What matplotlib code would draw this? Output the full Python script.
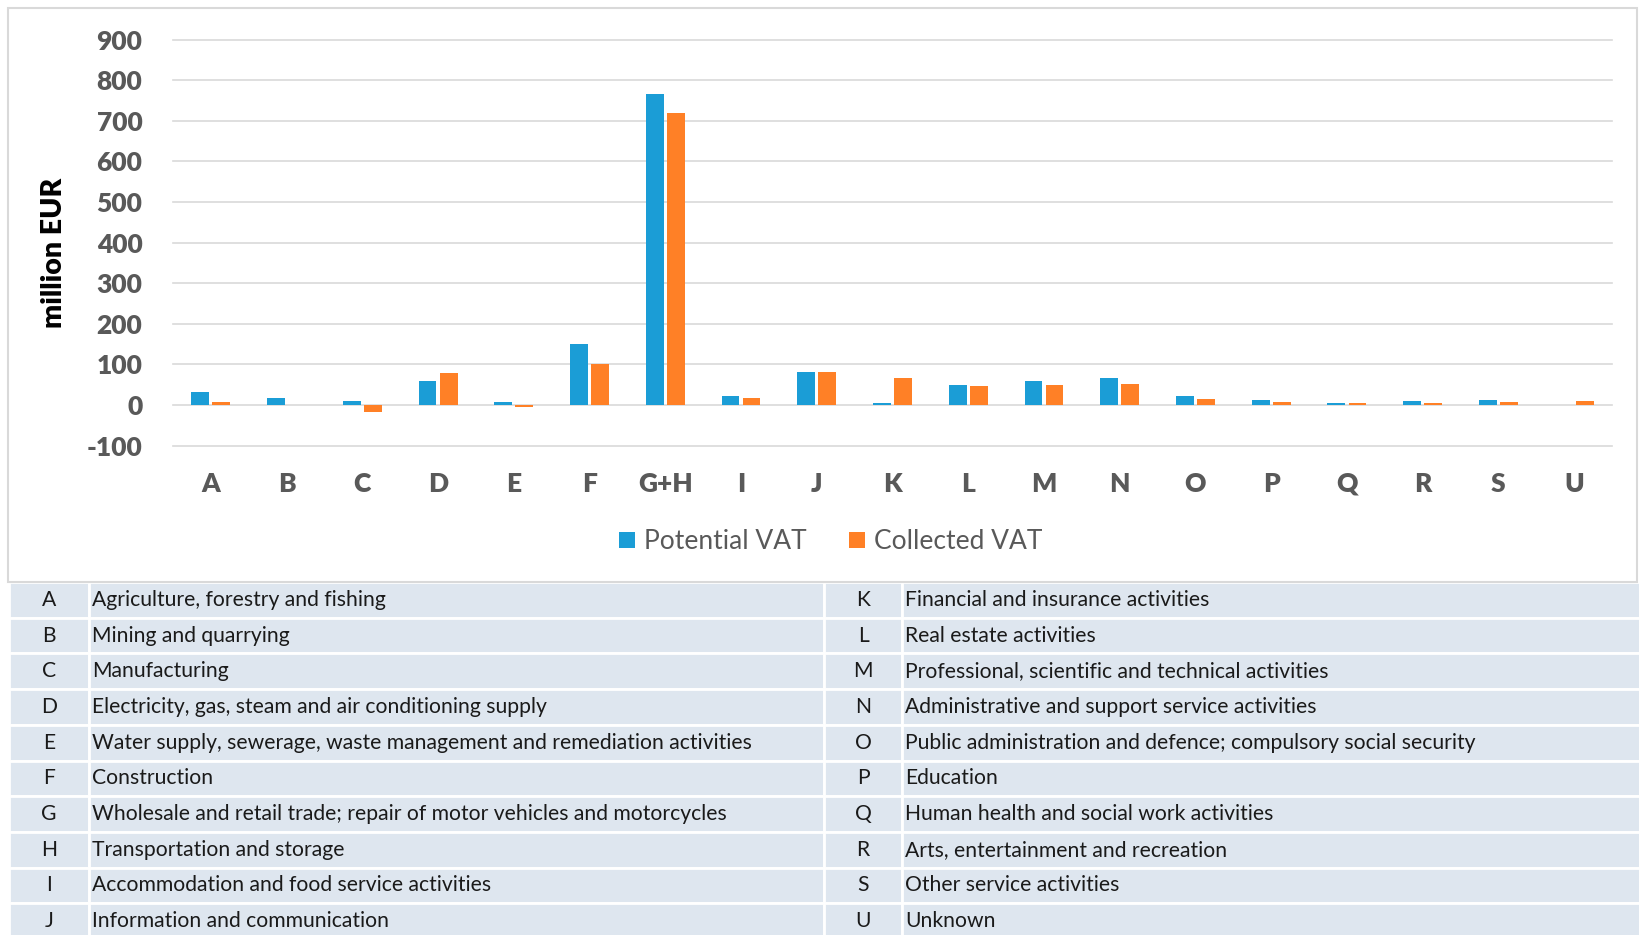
import numpy as np
import matplotlib
matplotlib.use("Agg")
import matplotlib.pyplot as plt
from matplotlib.patches import Rectangle

plt.rcParams['font.family'] = ['Lato', 'DejaVu Sans']
plt.rcParams['axes.unicode_minus'] = False

# VAT by NACE section, million EUR
categories = ['A', 'B', 'C', 'D', 'E', 'F', 'G+H', 'I', 'J', 'K',
              'L', 'M', 'N', 'O', 'P', 'Q', 'R', 'S', 'U']
potential_vat = [32, 17, 11, 58, 8, 150, 767, 23, 82, 5,
                 50, 58, 67, 23, 13, 5, 11, 13, 0]
collected_vat = [8, 0, -16, 80, -5, 102, 719, 17, 82, 67,
                 46, 50, 52, 16, 8, 5, 5, 8, 11]

# section codes and names for the key below the chart
left_codes = ['A', 'B', 'C', 'D', 'E', 'F', 'G', 'H', 'I', 'J']
left_names = ['Agriculture, forestry and fishing',
              'Mining and quarrying',
              'Manufacturing',
              'Electricity, gas, steam and air conditioning supply',
              'Water supply, sewerage, waste management and remediation activities',
              'Construction',
              'Wholesale and retail trade; repair of motor vehicles and motorcycles',
              'Transportation and storage',
              'Accommodation and food service activities',
              'Information and communication']
right_codes = ['K', 'L', 'M', 'N', 'O', 'P', 'Q', 'R', 'S', 'U']
right_names = ['Financial and insurance activities',
               'Real estate activities',
               'Professional, scientific and technical activities',
               'Administrative and support service activities',
               'Public administration and defence; compulsory social security',
               'Education',
               'Human health and social work activities',
               'Arts, entertainment and recreation',
               'Other service activities',
               'Unknown']

BLUE = '#1b9dd6'
ORANGE = '#ff8026'
GREY = '#595959'
W, H = 1640, 935

fig = plt.figure(figsize=(W / 100, H / 100), dpi=100)
fig.patch.set_facecolor('white')

# chart frame
fig.patches.append(Rectangle((8 / W, 1 - 582 / H), 1629 / W, 574 / H,
                             transform=fig.transFigure, fill=False,
                             edgecolor='#d9d9d9', linewidth=1.5))

ax = fig.add_axes([173 / W, 1 - 445.6 / H, 1439 / W, 405.9 / H])
x = np.arange(len(categories))
bw = 0.235
ax.bar(x - 0.139, potential_vat, bw, color=BLUE, label='Potential VAT', zorder=3)
ax.bar(x + 0.139, collected_vat, bw, color=ORANGE, label='Collected VAT', zorder=3)

ax.set_xlim(-0.5, len(categories) - 0.5)
ax.set_ylim(-100, 900)
ax.set_yticks(np.arange(-100, 901, 100))
ax.grid(axis='y', color='#d9d9d9', linewidth=1.2, zorder=0)
for g in ax.get_ygridlines():
    g.set_clip_on(False)
for s in ax.spines.values():
    s.set_visible(False)
ax.tick_params(length=0)
ax.tick_params(axis='y', pad=22, labelsize=19, labelcolor=GREY)
ax.tick_params(axis='x', pad=19, labelsize=19, labelcolor=GREY)
ax.set_xticks(x)
ax.set_xticklabels(categories)
for lab in ax.get_xticklabels() + ax.get_yticklabels():
    lab.set_fontweight('heavy')

ax.set_ylabel('million EUR', fontsize=20.5, fontweight='heavy', color='black')
ax.yaxis.set_label_coords(-106 / 1439, 0.475)

ax.legend(loc='center', bbox_to_anchor=(0.457, -0.237), ncol=2, frameon=False,
          fontsize=19, labelcolor=GREY, handlelength=0.6, handleheight=0.6,
          handletextpad=0.35, columnspacing=1.6)

# key table
tax = fig.add_axes([0, 0, 1, 1])
tax.set_axis_off()
cell_text = [[lc, ln, rc, rn] for lc, ln, rc, rn in
             zip(left_codes, left_names, right_codes, right_names)]
col_w = np.array([80, 735, 78, 738]) / 1631
tbl = tax.table(cellText=cell_text, colWidths=col_w,
                cellLoc='left', bbox=[9 / W, -4 / H, 1631 / W, 357 / H])
tbl.auto_set_font_size(False)
for (r, c), cell in tbl.get_celld().items():
    cell.set_facecolor('#dee6ef')
    cell.set_edgecolor('white')
    cell.set_linewidth(2)
    cell.get_text().set_fontsize(15.2)
    cell.get_text().set_color('#1a1a1a')
    if c in (0, 2):
        cell.get_text().set_horizontalalignment('center')
    else:
        cell.PAD = 0.004

fig.savefig('out.png', dpi=100, facecolor='white')
